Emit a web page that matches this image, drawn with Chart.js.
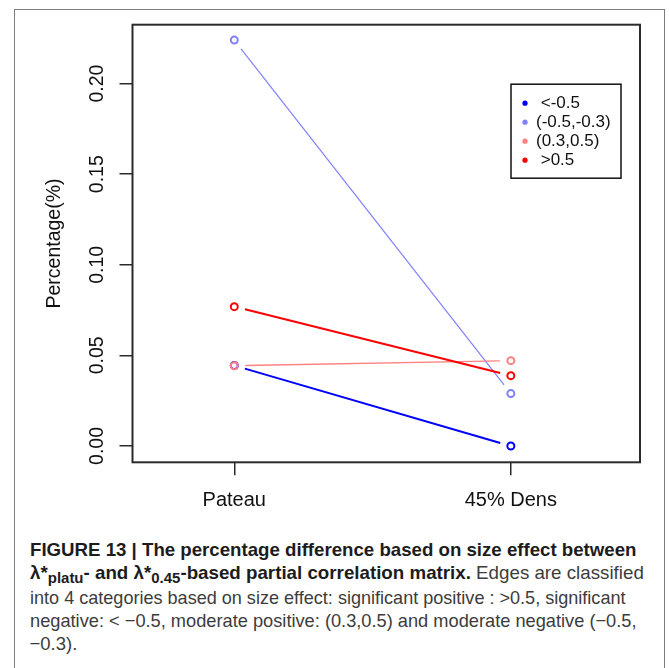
<!DOCTYPE html>
<html>
<head>
<meta charset="utf-8">
<script src="https://cdn.jsdelivr.net/npm/chart.js@4/dist/chart.umd.min.js"></script>
<style>
  html, body { margin: 0; padding: 0; background: #fff; }
  body { width: 669px; height: 668px; position: relative; overflow: hidden; font-family: "Liberation Sans", Arial, sans-serif; }
  #frame { position: absolute; left: 13.5px; top: 8.5px; width: 651px; height: 720px; border: 1.5px solid #7c7c7c; box-sizing: border-box; }
  #chartBox { position: absolute; left: 0; top: 0; width: 669px; height: 520px; }
  #caption { position: absolute; left: 29.5px; top: 538px; font-size: 18.5px; line-height: 23.1px; color: #3c3c3c; }
  #caption .ln { display: block; width: max-content; white-space: nowrap; transform-origin: 0 0; }
  #caption b { color: #1c1c1c; }
  #caption .sub { position: relative; top: 4px; font-size: 0.8em; }
</style>
</head>
<body>
<div id="frame"></div>
<div id="chartBox"><canvas id="chart" width="669" height="520"></canvas></div>
<div id="caption">
  <span class="ln"><b>FIGURE 13 | The percentage difference based on size effect between</b></span>
  <span class="ln"><b>λ*<span class="sub">platu</span>- and λ*<span class="sub">0.45</span>-based partial correlation matrix.</b> Edges are classified</span>
  <span class="ln">into 4 categories based on size effect: significant positive : &gt;0.5, significant</span>
  <span class="ln">negative: &lt; −0.5, moderate positive: (0.3,0.5) and moderate negative (−0.5,</span>
  <span class="ln">−0.3).</span>
</div>
<script>
// x positions of the two conditions
const categories = ['Pateau', '45% Dens'];
const categoryPos = [1, 2];

// effect-size groups
const groupLabels = [' <-0.5', '(-0.5,-0.3)', '(0.3,0.5)', ' >0.5'];
const groupColors = ['#0000ff', '#8080ff', '#ff8080', '#ff0000'];

// percentage of edges per group (Pateau, 45% Dens)
const lessNeg05 = [0.0444, 0.0000];
const negModerate = [0.2240, 0.0289];
const posModerate = [0.0443, 0.0471];
const greaterPos05 = [0.0769, 0.0388];

const yTicks = [0, 0.05, 0.10, 0.15, 0.20];

const FONT = '"Liberation Sans", Arial, sans-serif';

function makeSet(idx, values, width) {
    return {
        label: groupLabels[idx],
        data: values.map((v, i) => ({ x: categoryPos[i], y: v })),
        borderColor: groupColors[idx],
        backgroundColor: 'rgba(0,0,0,0)',
        pointBorderColor: groupColors[idx],
        pointBackgroundColor: 'rgba(0,0,0,0)',
        pointRadius: 3.5,
        pointBorderWidth: 2,
        pointHoverRadius: 3.5,
        showLine: false,
        order: groupLabels.length - idx, // later groups drawn on top, like R
        segWidth: width
    };
}

// R type="b": lines stop short of each point
const gapLines = {
    id: 'gapLines',
    beforeDatasetsDraw(chart) {
        const ctx = chart.ctx;
        chart.data.datasets.forEach((ds, i) => {
            const pts = chart.getDatasetMeta(i).data;
            ctx.save();
            ctx.strokeStyle = ds.borderColor;
            ctx.lineWidth = ds.segWidth;
            for (let k = 1; k < pts.length; k++) {
                const a = pts[k - 1], b = pts[k];
                const dx = b.x - a.x, dy = b.y - a.y;
                const g = 11 / Math.hypot(dx, dy);
                ctx.beginPath();
                ctx.moveTo(a.x + dx * g, a.y + dy * g);
                ctx.lineTo(b.x - dx * g, b.y - dy * g);
                ctx.stroke();
            }
            ctx.restore();
        });
    }
};

const plotBox = {
    id: 'plotBox',
    afterDatasetsDraw(chart) {
        const { ctx, chartArea: a } = chart;
        ctx.save();
        ctx.strokeStyle = '#2b2b2b';
        ctx.lineWidth = 2;
        ctx.strokeRect(a.left, a.top, a.right - a.left, a.bottom - a.top);
        ctx.restore();
    }
};

const boxLegend = {
    id: 'boxLegend',
    afterDraw(chart) {
        const { ctx, chartArea } = chart;
        const x0 = chartArea.right - 129, y0 = chartArea.top + 59.5;
        ctx.save();
        ctx.strokeStyle = '#111';
        ctx.lineWidth = 1.5;
        ctx.strokeRect(x0, y0, 110, 94);
        ctx.font = '17px ' + FONT;
        ctx.textBaseline = 'middle';
        chart.data.datasets.forEach((ds, i) => {
            const y = y0 + 19 + i * 19;
            ctx.fillStyle = ds.borderColor;
            ctx.beginPath();
            ctx.arc(x0 + 14, y, 2.6, 0, Math.PI * 2);
            ctx.fill();
            ctx.fillStyle = '#111';
            ctx.fillText(ds.label, x0 + 25, y);
        });
        ctx.restore();
    }
};

const ctx = document.getElementById('chart').getContext('2d');
new Chart(ctx, {
    type: 'line',
    data: {
        datasets: [
            makeSet(0, lessNeg05, 2),
            makeSet(1, negModerate, 1.2),
            makeSet(2, posModerate, 1.4),
            makeSet(3, greaterPos05, 2)
        ]
    },
    options: {
        responsive: false,
        animation: false,
        layout: { padding: { left: 15, top: 24.7, right: 29, bottom: 0 } },
        plugins: { legend: { display: false }, tooltip: { enabled: false } },
        scales: {
            x: {
                type: 'linear',
                min: 0.632,
                max: 2.467,
                afterBuildTicks: s => { s.ticks = categoryPos.map(v => ({ value: v })); },
                afterFit: s => { s.height = 57.7; },
                ticks: {
                    callback: (v, i) => categories[i],
                    autoSkip: false,
                    maxRotation: 0,
                    padding: 13,
                    color: '#111',
                    font: { family: FONT, size: 20 }
                },
                grid: { drawOnChartArea: false, tickLength: 13, color: '#2b2b2b', lineWidth: 1.5 },
                border: { display: false }
            },
            y: {
                min: -0.009,
                max: 0.2325,
                afterBuildTicks: s => { s.ticks = yTicks.map(v => ({ value: v })); },
                afterFit: s => { s.width = 117.5; },
                ticks: {
                    callback: v => v.toFixed(2),
                    minRotation: 90,
                    maxRotation: 90,
                    crossAlign: 'center',
                    padding: 3,
                    color: '#111',
                    font: { family: FONT, size: 19.5 }
                },
                grid: { drawOnChartArea: false, tickLength: 13, color: '#2b2b2b', lineWidth: 1.5 },
                border: { display: false },
                title: {
                    display: true,
                    text: 'Percentage(%)',
                    color: '#111',
                    font: { family: FONT, size: 19.5 },
                    padding: { top: 28, bottom: 0 }
                }
            }
        }
    },
    plugins: [gapLines, plotBox, boxLegend]
});

// stretch caption lines to the widths of the original figure
const lineWidths = [606.5, 613.8, 595.5, 606.5];
document.querySelectorAll('#caption .ln').forEach((el, i) => {
    if (!lineWidths[i]) return;
    const w = el.getBoundingClientRect().width;
    el.style.transform = 'scaleX(' + (lineWidths[i] / w) + ')';
});
</script>
</body>
</html>
